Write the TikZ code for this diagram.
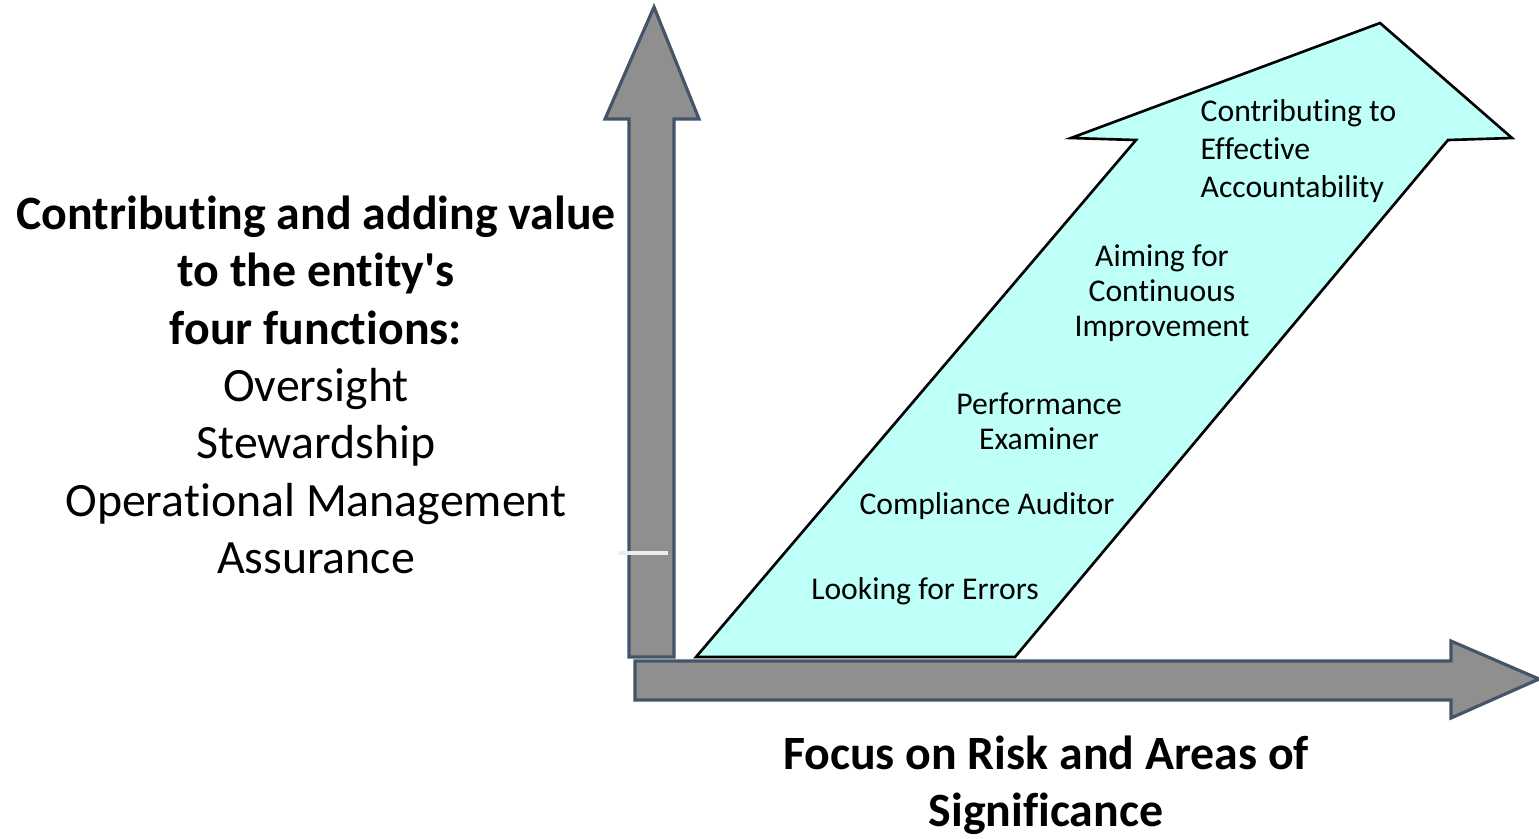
\documentclass[tikz,border=0pt]{standalone}
\usepackage{fontspec}
\setmainfont{Carlito}[Ligatures={NoCommon}]
\usetikzlibrary{positioning}
\definecolor{axisgray}{RGB}{143,143,143}
\definecolor{axisedge}{RGB}{68,84,106}
\definecolor{stagecyan}{RGB}{190,255,247}
\tikzset{
  axisarrow/.style={draw=axisedge,fill=axisgray,line width=0.9pt,line join=miter},
  stagearrow/.style={draw=black,fill=stagecyan,line width=0.75pt},
  stage/.style={font=\fontsize{9}{9.9}\selectfont,align=center,inner sep=0pt},
  stage_wide/.style={stage,font=\fontsize{9}{10.9}\selectfont,align=left,anchor=west},
  heading/.style={font=\fontsize{13.6}{16.3}\selectfont,align=center,inner sep=0pt},
}
\begin{document}
\begin{tikzpicture}[x=0.01cm,y=-0.01cm]
	    \useasboundingbox (0,0) rectangle (1539,838);
	    % axes
	    \draw[axisarrow] (629,657) -- (629,119) -- (605,119) -- (654,7) -- (699,119) -- (674,119) -- (674,657) -- cycle;
	    \draw[axisarrow] (635,661) -- (1451,661) -- (1451,641) -- (1539,679) -- (1451,718) -- (1451,700) -- (635,700) -- cycle;
	    \draw[white!85!gray,line width=1.2pt] (618,553) -- (668,553);
	    % stages
	    \draw[stagearrow] (696,657) -- (1136,140) -- (1071,138) -- (1380,23) -- (1512,138) -- (1448,140) -- (1015,657) -- cycle;
	    \node[stage] (errors) at (925,591) {Looking for Errors};
	    \node[stage] (auditor) at (987,506) {Compliance Auditor};
	    \node[stage] (examiner) at (1039,421) {Performance\\Examiner};
	    \node[stage] (improve) at (1162,293) {Aiming for\\Continuous\\Improvement};
	    \node[stage_wide] (account) at (1200,151) {Contributing to\\Effective\\Accountability};
	    % axis titles
	    \node[heading] (value) at (316,385) {\textbf{Contributing and adding value}\\\textbf{to the entity\textquotesingle s}\\\textbf{four functions:}\\Oversight\\Stewardship\\Operational Management\\Assurance};
	    \node[heading] (focus) at (1046,785) {\textbf{Focus on Risk and Areas of}\\\textbf{Significance}};
\end{tikzpicture}
\end{document}
